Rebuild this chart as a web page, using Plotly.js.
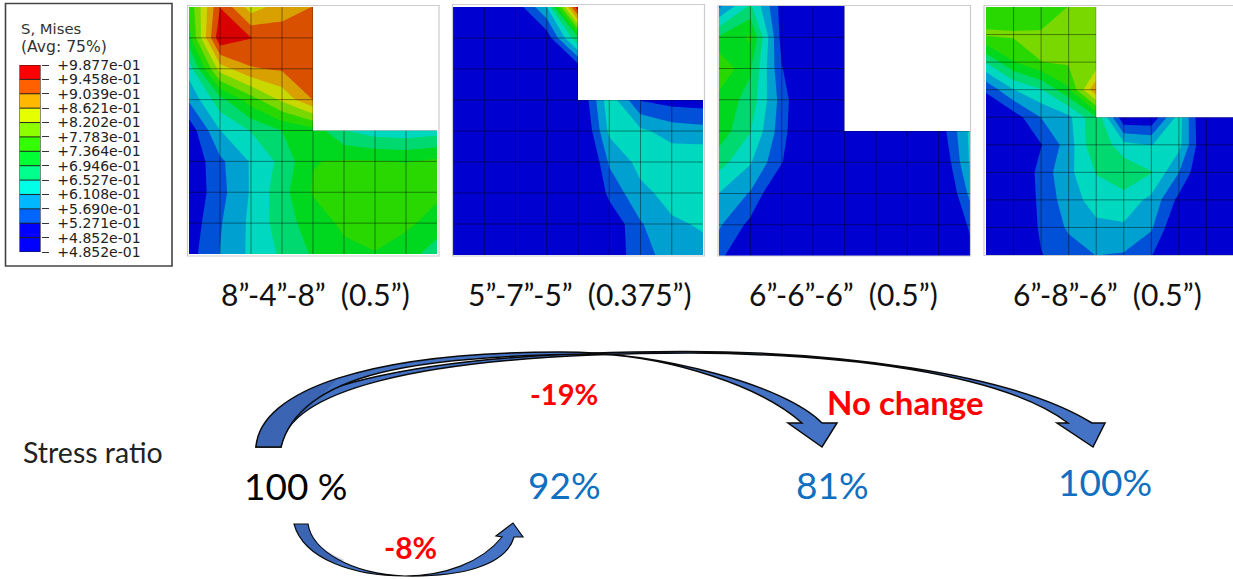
<!DOCTYPE html>
<html><head><meta charset="utf-8">
<script src="https://cdn.plot.ly/plotly-3.0.1.min.js"></script>
<style>html,body{margin:0;padding:0;background:#fff}#c{width:1233px;height:579px}</style>
</head><body><div id="c"></div>
<script>
var _ = null;
// Nodal von Mises stress (top row first)
var stress8_4_8 = [
 [.745,.945,.84,.885,.905,_,_,_,_],
 [.72,.98,.947,.925,.925,_,_,_,_],
 [.63,.84,.90,.91,.925,_,_,_,_],
 [.575,.68,.76,.83,.905,_,_,_,_],
 [.50,.61,.655,.695,.72,.655,.63,.625,.635],
 [.49,.56,.615,.665,.735,.74,.74,.735,.745],
 [.49,.555,.615,.68,.74,.76,.76,.76,.745],
 [.50,.565,.62,.675,.715,.745,.75,.745,.72],
 [.51,.57,.62,.66,.70,.725,.735,.715,.67]];
var stress5_7_5 = [
 [.47,.47,.50,.61,.98,_,_,_,_],
 [.46,.46,.47,.50,.69,_,_,_,_],
 [.45,.45,.45,.46,.49,_,_,_,_],
 [.44,.44,.44,.45,.47,.64,.525,.51,.505],
 [.43,.43,.43,.44,.45,.62,.62,.592,.585],
 [.42,.42,.42,.42,.42,.575,.625,.64,.645],
 [.42,.42,.42,.42,.42,.54,.60,.625,.63],
 [.42,.42,.42,.42,.42,.49,.565,.605,.615],
 [.42,.42,.42,.42,.42,.50,.55,.59,.60]];
var stress6_6_6 = [
 [.56,.66,.51,.45,.45,_,_,_,_],
 [.70,.745,.51,.45,.45,_,_,_,_],
 [.775,.70,.53,.45,.45,_,_,_,_],
 [.72,.68,.55,.45,.45,_,_,_,_],
 [.72,.655,.545,.45,.45,.45,.45,.497,.62],
 [.67,.615,.53,.45,.45,.45,.45,.47,.615],
 [.61,.565,.47,.45,.45,.45,.45,.45,.58],
 [.575,.515,.45,.45,.45,.45,.45,.45,.535],
 [.54,.47,.44,.44,.44,.44,.44,.44,.51]];
var stress6_8_6 = [
 [.75,.735,.745,.78,.79,_,_,_,_,_],
 [.785,.785,.785,.795,.795,_,_,_,_,_],
 [.655,.735,.778,.785,.79,_,_,_,_,_],
 [.535,.61,.65,.73,.90,_,_,_,_,_],
 [.47,.505,.57,.60,.69,.49,.49,.63,.46,.45],
 [.44,.47,.525,.59,.69,.625,.61,.625,.47,.45],
 [.44,.47,.545,.60,.655,.685,.655,.57,.47,.45],
 [.44,.47,.54,.59,.63,.635,.60,.515,.46,.45],
 [.44,.47,.535,.575,.60,.605,.575,.48,.46,.45],
 [.44,.45,.525,.55,.57,.565,.53,.46,.45,.45]];
var panelStress = [stress8_4_8, stress5_7_5, stress6_6_6, stress6_8_6];
var panelCaptions = ["8”-4”-8”  (0.5”)","5”-7”-5”  (0.375”)","6”-6”-6”  (0.5”)","6”-8”-6”  (0.5”)"];
var legendTitle = ["S, Mises","(Avg: 75%)"];
var legendLabels = ["+9.877e-01","+9.458e-01","+9.039e-01","+8.621e-01","+8.202e-01","+7.783e-01","+7.364e-01","+6.946e-01","+6.527e-01","+6.108e-01","+5.690e-01","+5.271e-01","+4.852e-01","+4.852e-01"];
var legendColors = ["#ff0000","#ff6000","#ffb800","#e6ff00","#8cff00","#33ff00","#00ff33","#00ff8c","#00ffe6","#00b8ff","#0066ff","#0000ff","#0000ff"];
var bandColors = ["#0000d0","#0050d8","#00a0d0","#00d8c0","#00d870","#00d820","#28d800","#78d800","#c8d800","#d8a000","#d85000","#d80000"];
var ratioLabels = ["100 %","92%","81%","100%"];
var ratioHeading = "Stress ratio";
var changeLabels = ["-19%","No change","-8%"];

// layout boxes in page pixels [left, top, right, bottom]
var panelBox = [[189,7,437,254],[453,7,703,255],[719,6,970,256],[986,7,1234,255]];
var frameBox = [[187.5,5.5,439,256],[452.5,4.5,704.5,256],[718,5.5,970.5,256],[984,5.5,1240,255.5]];
var W = 1233, H = 579;
function fx(v){return v/W} function fy(v){return 1-v/H}

var traces = [], shapes = [], annotations = [], layout = {};
layout.xaxis = {domain:[0,1],range:[0,W],visible:false,fixedrange:true};
layout.yaxis = {domain:[0,1],range:[H,0],visible:false,fixedrange:true};
traces.push({type:'scatter',x:[0],y:[0],mode:'none',hoverinfo:'skip',showlegend:false,xaxis:'x',yaxis:'y'});

var bandScale = bandColors.map(function(c,i){return [i/(bandColors.length-1),c]});
panelStress.forEach(function(z,i){
  var n=i+2, ny=z.length-1, nx=z[0].length-1, b=panelBox[i], xs=[], ys=[], k;
  for(k=0;k<=nx;k++)xs.push(k); for(k=0;k<=ny;k++)ys.push(k);
  layout['xaxis'+n]={domain:[fx(b[0]),fx(Math.min(b[2],W))],range:[0,nx*(Math.min(b[2],W)-b[0])/(b[2]-b[0])],visible:false,anchor:'y'+n,fixedrange:true};
  layout['yaxis'+n]={domain:[fy(b[3]),fy(b[1])],range:[ny,0],visible:false,anchor:'x'+n,fixedrange:true};
  traces.push({type:'contour',x:xs,y:ys,z:z,xaxis:'x'+n,yaxis:'y'+n,connectgaps:true,autocontour:false,
    contours:{start:.5271,end:.9458,size:.04187,coloring:'fill',showlines:false},
    line:{width:0,smoothing:0},colorscale:bandScale,showscale:false,hoverinfo:'skip'});
  var mx=[],my=[];
  for(k=1;k<nx;k++){mx.push(k,k,_);my.push(0,ny,_);}
  for(k=1;k<ny;k++){mx.push(0,nx,_);my.push(k,k,_);}
  traces.push({type:'scatter',mode:'lines',x:mx,y:my,xaxis:'x'+n,yaxis:'y'+n,line:{color:'rgba(0,0,0,0.42)',width:1},hoverinfo:'skip',showlegend:false});
  var cutX=0; while(z[0][cutX]!==_)cutX++; cutX--;
  var cutY=0; while(z[cutY][nx]===_)cutY++;
  shapes.push({type:'rect',xref:'x'+n,yref:'y'+n,x0:cutX,x1:nx,y0:0,y1:cutY,fillcolor:'#fff',line:{width:0},layer:'above'});
  var f=frameBox[i];
  shapes.push({type:'rect',xref:'x',yref:'y',x0:f[0],x1:f[2],y0:f[1],y1:f[3],line:{color:'#cccccc',width:1.2},layer:'above'});
  var cx=[315,580,843,1107][i];
  annotations.push({xref:'x',yref:'y',x:cx,y:294,text:panelCaptions[i],showarrow:false,xanchor:'center',yanchor:'middle',font:{family:'Lato',size:30,color:'#111'}});
});

// Legend colour key
var keyEdges=[], keyZ=[], kk;
for(kk=0;kk<=legendColors.length;kk++)keyEdges.push(kk);
for(kk=0;kk<legendColors.length;kk++)keyZ.push([kk]);
layout.xaxis6={domain:[fx(19.5),fx(40.5)],range:[0,1],visible:false,anchor:'y6',fixedrange:true};
layout.yaxis6={domain:[fy(252),fy(65)],range:[legendColors.length,0],anchor:'x6',side:'right',fixedrange:true,
  tickmode:'array',tickvals:keyEdges,ticktext:legendLabels,ticks:'outside',ticklen:7,tickcolor:'#333',tickwidth:1,ticklabelstandoff:6,
  showline:false,showgrid:false,zeroline:false,tickfont:{family:'DejaVu Sans',size:14,color:'#222'}};
traces.push({type:'heatmap',x:[0,1],y:keyEdges,z:keyZ,zmin:0,zmax:legendColors.length-1,xaxis:'x6',yaxis:'y6',showscale:false,hoverinfo:'skip',
  colorscale:legendColors.map(function(c,i){return [i/(legendColors.length-1),c]})});
var kx=[],ky=[];
for(kk=0;kk<=legendColors.length;kk++){kx.push(0,1,_);ky.push(kk,kk,_);}
kx.push(0,0,_,1,1);ky.push(0,legendColors.length,_,0,legendColors.length);
traces.push({type:'scatter',mode:'lines',x:kx,y:ky,xaxis:'x6',yaxis:'y6',line:{color:'#222',width:1},hoverinfo:'skip',showlegend:false,cliponaxis:false});
shapes.push({type:'rect',xref:'x',yref:'y',x0:5.5,x1:172,y0:3.5,y1:266,line:{color:'#444',width:1.6},layer:'above'});
annotations.push({xref:'x',yref:'y',x:19,y:28,text:legendTitle[0],showarrow:false,xanchor:'left',yanchor:'middle',font:{family:'DejaVu Sans',size:14.8,color:'#333'}});
annotations.push({xref:'x',yref:'y',x:19,y:47,text:legendTitle[1],showarrow:false,xanchor:'left',yanchor:'middle',font:{family:'DejaVu Sans',size:15.6,color:'#333'}});

// Curved block arrows, outlines in page pixels
function arrowShape(path,fill,w){
  shapes.push({type:'path',xref:'x',yref:'y',path:path,fillcolor:fill,line:{color:'#0a0a0a',width:w},layer:'above'});
}
function shade(path){
  shapes.push({type:'path',xref:'x',yref:'y',path:path,fillcolor:'rgba(25,50,110,0.2)',line:{width:0},layer:'above'});
}
var arrowBlue='#4472c4';
arrowShape('M256,447 C266,392 400,352 680,351.5 C830,351 1010,372 1092,423 L1105,423 L1093,447 L1057,423 L1068,423 C1000,372 840,354 690,353 C400,354 288,395 281,447 Z',arrowBlue,1.5);
arrowShape('M256,447 C260,390 370,352 560,352 C660,352 785,385 822,423 L837,423 L822,447 L788,423 L802,423 C760,385 670,358 600,354 C420,355 300,372 281,447 Z',arrowBlue,1.5);
arrowShape('M294,524 C304,560 355,576 405,576 C445,576 482,562 502,537 L496,536 L513,523 L523,537 L514,537 C506,566 460,577 405,576 C350,574 312,550 308,524 Z',arrowBlue,1.2);
shade('M256.7,446.3 C258,418.5 286.5,394.75 338,378.5 L307,410 C291,421.7 282.75,434 280.3,446.3 Z');
shade('M294.7,524.7 C298,542 315,556 335,563 L345,560 C325,552 310,540 307.3,524.7 Z');

annotations.push({xref:'x',yref:'y',x:21,y:452,text:ratioHeading,showarrow:false,xanchor:'left',yanchor:'middle',font:{family:'Lato',size:28.5,color:'#222'}});
[[296,485,'#000',37],[564.5,484,'#0f6fc0',37],[832.5,484,'#0f6fc0',37],[1104.5,481,'#0f6fc0',37]].forEach(function(r,i){
  annotations.push({xref:'x',yref:'y',x:r[0],y:r[1],text:ratioLabels[i],showarrow:false,xanchor:'center',yanchor:'middle',font:{family:'Lato',size:r[3],color:r[2]}});
});
[[564,393,29],[905,402,33],[410,547,30]].forEach(function(r,i){
  annotations.push({xref:'x',yref:'y',x:r[0],y:r[1],text:'<b>'+changeLabels[i]+'</b>',showarrow:false,xanchor:'center',yanchor:'middle',font:{family:'Lato',size:r[2],color:'#ff0000'}});
});

layout.width=W; layout.height=H; layout.margin={l:0,r:0,t:0,b:0,pad:0};
layout.paper_bgcolor='#fff'; layout.plot_bgcolor='rgba(0,0,0,0)'; layout.showlegend=false;
layout.shapes=shapes; layout.annotations=annotations;
Plotly.newPlot('c',traces,layout,{displayModeBar:false,staticPlot:true});
</script></body></html>
